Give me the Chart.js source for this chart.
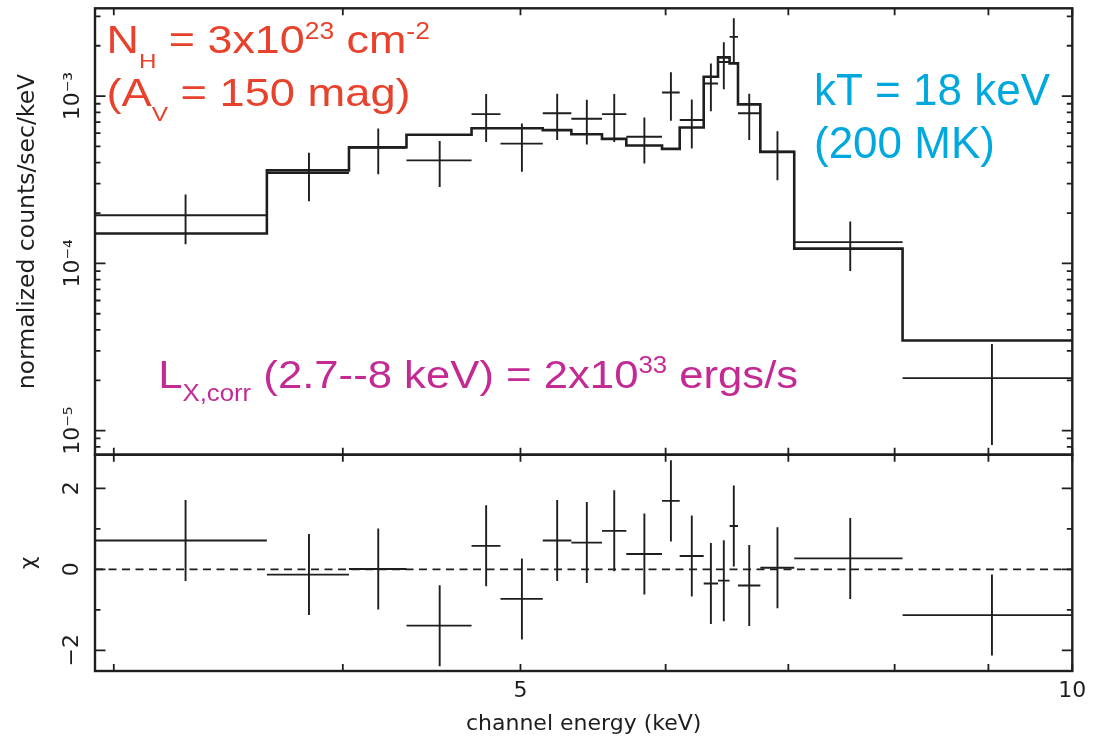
<!DOCTYPE html>
<html>
<head>
<meta charset="utf-8">
<title>Spectrum and residuals</title>
<script src="https://cdn.jsdelivr.net/npm/chart.js@4.4.0/dist/chart.umd.min.js"></script>
<style>
  html, body { margin: 0; padding: 0; background: #fff; }
  #wrap { position: relative; width: 1096px; height: 737px; overflow: hidden; }
  #wrap canvas { position: absolute; left: 0; }
  #spec { top: 0; }
  #resid { top: 450px; }
</style>
</head>
<body>
<div id="wrap">
  <canvas id="spec" width="1096" height="460"></canvas>
  <canvas id="resid" width="1096" height="287"></canvas>
</div>
<script>
// channel bins (keV), 19 bins -> 20 edges
const binEdges = [2.93, 3.636, 4.031, 4.333, 4.702, 4.876, 5.142, 5.330, 5.539, 5.711,
                  5.973, 6.107, 6.294, 6.408, 6.502, 6.571, 6.758, 7.052, 8.080, 10.0];
// normalized counts/sec/keV and 1-sigma errors
const rate = [1.94e-4, 3.47e-4, 4.91e-4, 4.13e-4, 7.80e-4, 5.20e-4, 7.90e-4, 7.32e-4, 7.80e-4, 5.71e-4,
              1.051e-3, 7.20e-4, 1.19e-3, 1.60e-3, 2.26e-3, 7.90e-4, 4.65e-4, 1.34e-4, 2.06e-5];
const rateErr = [0.64e-4, 1.12e-4, 1.50e-4, 1.27e-4, 2.48e-4, 1.67e-4, 2.44e-4, 2.19e-4, 2.48e-4, 1.75e-4,
                 3.38e-4, 2.33e-4, 3.77e-4, 4.99e-4, 6.65e-4, 2.44e-4, 1.51e-4, 0.44e-4, 1.24e-5];
// folded model per bin
const model = [1.51e-4, 3.60e-4, 4.95e-4, 5.87e-4, 6.43e-4, 6.43e-4, 6.26e-4, 5.92e-4, 5.55e-4, 5.07e-4,
               4.84e-4, 6.49e-4, 1.306e-3, 1.705e-3, 1.569e-3, 8.92e-4, 4.64e-4, 1.225e-4, 3.46e-5];
// residuals (data - model) / sigma
const chi = [0.71, -0.13, 0.01, -1.39, 0.58, -0.73, 0.71, 0.66, 0.95, 0.38,
             1.69, 0.33, -0.35, -0.28, 1.07, -0.40, 0.04, 0.27, -1.13];

const xTicks = [3, 4, 5, 6, 7, 8, 9, 10];
const xLabels = [5, 10];
const rateTicks = [1e-5, 1e-4, 1e-3];
const chiTicks = [-2, 0, 2];
const chiMinor = [-1, 1];

const xRange = [2.93, 10];
const rateRange = [7.18e-6, 3.35e-3];
const chiRange = [-2.51, 2.83];

const ink = '#1e1e1e';
const axisFont = '"DejaVu Sans", sans-serif';
const noteFont = '"Liberation Sans", Arial, sans-serif';

// minor ticks 2..9 in each decade of the rate axis
const rateMinor = [];
for (let d = -6; d <= -3; d++) {
  for (let m = 2; m <= 9; m++) rateMinor.push(m * Math.pow(10, d));
}

const SUP = {'-': '\u207B', '0': '\u2070', '1': '\u00B9', '2': '\u00B2', '3': '\u00B3',
             '4': '\u2074', '5': '\u2075', '6': '\u2076', '7': '\u2077', '8': '\u2078', '9': '\u2079'};
function sup(n) { return String(n).split('').map(c => SUP[c]).join(''); }

// horizontal bin bar + vertical error bar for each channel, null breaks the line
function crossPoints(vals, errs) {
  const pts = [];
  vals.forEach((v, i) => {
    const lo = binEdges[i], hi = binEdges[i + 1], mid = (lo + hi) / 2;
    pts.push({x: lo, y: v}, {x: hi, y: v}, {x: mid, y: null},
             {x: mid, y: v - errs[i]}, {x: mid, y: v + errs[i]}, {x: mid, y: null});
  });
  return pts;
}

function stepPoints(vals) {
  const pts = [];
  vals.forEach((v, i) => pts.push({x: binEdges[i], y: v}, {x: binEdges[i + 1], y: v}));
  return pts;
}

// frame around the plot area and inward ticks on all four sides
const frameTicks = {
  id: 'frameTicks',
  afterDatasetsDraw(chart, args, opts) {
    const {ctx, chartArea: a, scales} = chart;
    ctx.save();
    ctx.strokeStyle = ink;
    ctx.lineWidth = 1.8;
    ctx.beginPath();
    xTicks.forEach(v => {
      const px = scales.x.getPixelForValue(v);
      ctx.moveTo(px, a.top); ctx.lineTo(px, a.top + 7);
      ctx.moveTo(px, a.bottom); ctx.lineTo(px, a.bottom - 7);
    });
    const yt = (list, len) => list.forEach(v => {
      const py = scales.y.getPixelForValue(v);
      if (py < a.top || py > a.bottom) return;
      ctx.moveTo(a.left, py); ctx.lineTo(a.left + len, py);
      ctx.moveTo(a.right, py); ctx.lineTo(a.right - len, py);
    });
    yt(opts.major, 10.5);
    yt(opts.minor, 5.5);
    ctx.stroke();
    ctx.lineWidth = 2.4;
    ctx.strokeRect(a.left, a.top, a.right - a.left, a.bottom - a.top);
    ctx.restore();
  }
};

// text runs: [text, size, baseline shift]
function richText(ctx, x, y, runs, color, sx) {
  ctx.save();
  ctx.translate(x, y);
  ctx.scale(sx, 1);
  ctx.fillStyle = color;
  ctx.textBaseline = 'alphabetic';
  ctx.textAlign = 'left';
  let cx = 0;
  runs.forEach(([t, size, dy]) => {
    ctx.font = size + 'px ' + noteFont;
    ctx.fillText(t, cx, dy);
    cx += ctx.measureText(t).width;
  });
  ctx.restore();
}

const notes = {
  id: 'notes',
  afterDraw(chart) {
    const ctx = chart.ctx;
    const red = '#e8412c', cyan = '#00a8de', mag = '#c32a93';
    richText(ctx, 106.5, 53.3, [['N', 39, 0], ['H', 21, 15], [' = 3x10', 39, 0], ['23', 23, -14],
                               [' cm', 39, 0], ['-2', 23, -14]], red, 1.15);
    richText(ctx, 106.5, 106, [['(A', 39, 0], ['V', 21, 15], [' = 150 mag)', 39, 0]], red, 1.16);
    richText(ctx, 814, 105, [['kT = 18 keV', 44, 0]], cyan, 1.0);
    richText(ctx, 814, 158.3, [['(200 MK)', 44, 0]], cyan, 1.0);
    richText(ctx, 158.2, 388.3, [['L', 39, 0], ['X,corr', 23, 13], [' (2.7--8 keV) = 2x10', 39, 0],
                                 ['33', 23, -15], [' ergs/s', 39, 0]], mag, 1.12);
  }
};

function xScale(show) {
  return {
    type: 'logarithmic', min: xRange[0], max: xRange[1], bounds: 'data', display: show,
    grid: {display: false, drawTicks: false}, border: {display: false},
    afterBuildTicks: s => { s.ticks = xTicks.map(v => ({value: v})); },
    afterFit: s => {
      if (show) s.height = 66;
      s.paddingLeft = 0; s.paddingRight = 0;
    },
    ticks: {
      autoSkip: false, maxRotation: 0, minRotation: 0, padding: 7.5, color: ink,
      font: {family: axisFont, size: 22},
      callback: v => xLabels.includes(v) ? String(v) : ''
    },
    title: {display: true, text: 'channel energy (keV)', color: ink,
            font: {family: axisFont, size: 22}, padding: {top: 0, bottom: 0}}
  };
}

const lineBase = {showLine: true, pointRadius: 0, borderColor: ink, spanGaps: false, tension: 0};

new Chart(document.getElementById('spec'), {
  type: 'scatter',
  data: {
    datasets: [
      Object.assign({data: stepPoints(model), borderWidth: 2.6}, lineBase),
      Object.assign({data: crossPoints(rate, rateErr), borderWidth: 1.9}, lineBase)
    ]
  },
  options: {
    responsive: false, animation: false, events: [], devicePixelRatio: 1,
    layout: {autoPadding: false, padding: {left: 0, right: 23.7, top: 8.3, bottom: 5.3}},
    plugins: {legend: {display: false}, tooltip: {enabled: false},
              frameTicks: {major: rateTicks, minor: rateMinor}},
    scales: {
      x: xScale(false),
      y: {
        type: 'logarithmic', min: rateRange[0], max: rateRange[1], bounds: 'data',
        grid: {display: false, drawTicks: false}, border: {display: false},
        afterBuildTicks: s => { s.ticks = rateTicks.map(v => ({value: v})); },
        afterFit: s => { s.width = 95; s.paddingTop = 0; s.paddingBottom = 0; },
        ticks: {
          minRotation: 90, maxRotation: 90, crossAlign: 'center', padding: -2, color: ink,
          font: {family: axisFont, size: 22},
          callback: v => '10' + sup(Math.round(Math.log10(v)))
        },
        title: {display: true, text: 'normalized counts/sec/keV', color: ink,
                font: {family: axisFont, size: 23.5}, padding: {top: 14, bottom: 0}}
      }
    }
  },
  plugins: [frameTicks, notes]
});

const zeroLine = [{x: xRange[0], y: 0}, {x: xRange[1], y: 0}];

new Chart(document.getElementById('resid'), {
  type: 'scatter',
  data: {
    datasets: [
      Object.assign({data: zeroLine, borderWidth: 1.6, borderDash: [8, 5.5]}, lineBase),
      Object.assign({data: crossPoints(chi, chi.map(() => 1)), borderWidth: 1.9}, lineBase)
    ]
  },
  options: {
    responsive: false, animation: false, events: [], devicePixelRatio: 1,
    layout: {autoPadding: false, padding: {left: 0, right: 23.7, top: 4.7, bottom: 0}},
    plugins: {legend: {display: false}, tooltip: {enabled: false},
              frameTicks: {major: chiTicks, minor: chiMinor}},
    scales: {
      x: xScale(true),
      y: {
        type: 'linear', min: chiRange[0], max: chiRange[1], bounds: 'data',
        grid: {display: false, drawTicks: false}, border: {display: false},
        afterBuildTicks: s => { s.ticks = chiTicks.map(v => ({value: v})); },
        afterFit: s => { s.width = 95; s.paddingTop = 0; s.paddingBottom = 0; },
        ticks: {
          minRotation: 90, maxRotation: 90, crossAlign: 'center', padding: 7, color: ink,
          font: {family: axisFont, size: 22},
          callback: v => v < 0 ? '\u2212' + Math.abs(v) : String(v)
        },
        title: {display: true, text: '\u03C7', color: ink,
                font: {family: axisFont, size: 22}, padding: {top: 16, bottom: 0}}
      }
    }
  },
  plugins: [frameTicks]
});
</script>
</body>
</html>
